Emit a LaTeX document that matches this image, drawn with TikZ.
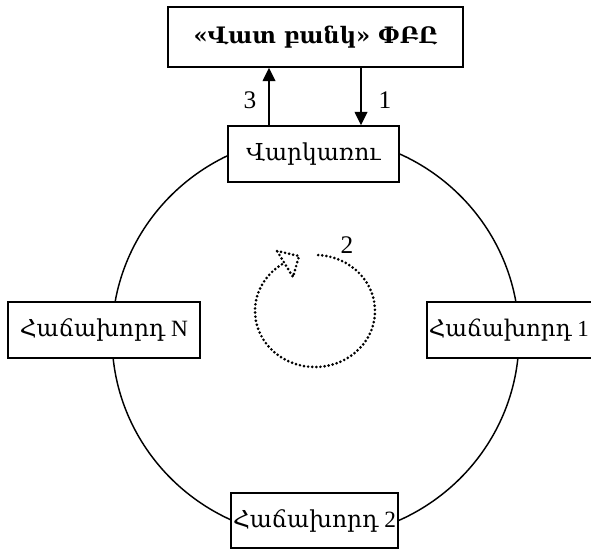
\documentclass[tikz,border=0pt]{standalone}
\usepackage{fontspec}
\setmainfont{Liberation Serif}
\newfontfamily\arm{DejaVu Serif}
\usetikzlibrary{arrows.meta,calc}
\begin{document}
\begin{tikzpicture}[x=0.75pt,y=-0.75pt,
  box/.style={draw, line width=1.1pt, fill=white, inner sep=0pt, font=\fontsize{17.5}{20}\selectfont},
  txt/.style={inner sep=0pt, font=\fontsize{17.2}{20}\selectfont},
  arr/.style={line width=1.1pt, -{Triangle[length=10pt,width=9.5pt]}},
  lbl/.style={font=\fontsize{19}{22}\selectfont},
  dots/.style={line width=2.2pt, line cap=round, dash pattern=on 0pt off 3.1pt}]
\useasboundingbox (0,0) rectangle (591,550);
\coordinate (c1) at (315.5,337);
\draw[line width=1.1pt] (c1) ellipse [x radius=203.5, y radius=201];
\node[box, minimum width=221.25pt, minimum height=45pt, font=\fontsize{17}{20}\selectfont\bfseries] (top) at (315.5,37) {\arm «Վատ բանկ» ՓԲԸ};
\node[box, minimum width=128.25pt, minimum height=42pt] (vark) at (313.5,154) {\arm Վարկառու};
\node[box, minimum width=144pt, minimum height=42pt] (cN) at (104,330) {{\arm Հաճախորդ} N};
\node[box, minimum width=144pt, minimum height=42pt] (c1b) at (523,330) {};
\node[txt, anchor=west] (c1t) at (428.5,330) {{\arm Հաճախորդ} 1};
\node[box, minimum width=125.25pt, minimum height=41.25pt] (c2b) at (314.5,520.5) {{\arm Հաճախորդ} 2};
\coordinate (a3) at (269,0);
\coordinate (a1) at (361,0);
\draw[arr] (vark.north -| a3) -- (top.south -| a3);
\draw[arr] (top.south -| a1) -- (vark.north -| a1);
\node[lbl] (l3) at (250,100) {3};
\node[lbl] (l1) at (385,100) {1};
\node[lbl] (l2) at (347,245) {2};
\coordinate (c2) at (315,311);
\draw[dots] (c2) ++(-87:60 and 56) arc[start angle=-87, end angle=237.5, x radius=60, y radius=56];
\draw[dots] (277,251) -- (299,256) -- (293,277) -- cycle;
\end{tikzpicture}
\end{document}
